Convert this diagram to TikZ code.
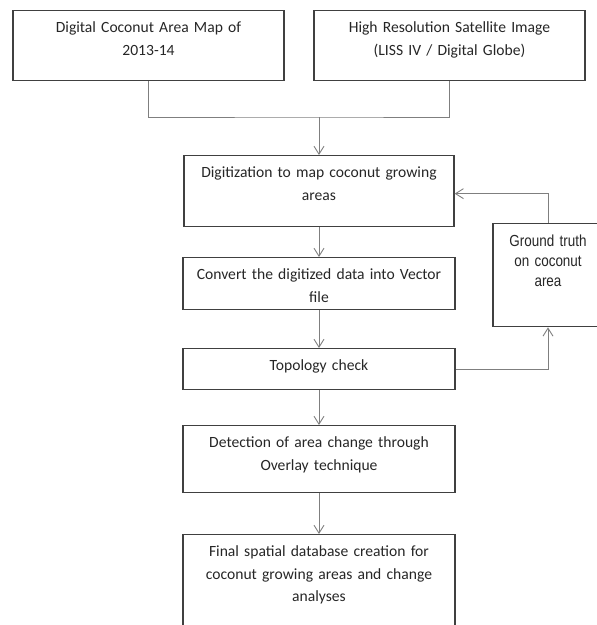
\documentclass[tikz,border=0pt]{standalone}
\usepackage{fontspec}
\setmainfont{Carlito}
\newfontfamily\truthfont{Liberation Sans}[FakeStretch=0.84]
\usetikzlibrary{arrows.meta}
\definecolor{boxline}{HTML}{404040}
\definecolor{linkline}{HTML}{7F7F7F}
\definecolor{textgray}{HTML}{262626}
\begin{document}
\begin{tikzpicture}[x=1pt,y=-1pt,
    box/.style={draw=boxline, line width=1.3pt, anchor=north, align=center,
      inner sep=0pt, text=textgray, text height=22pt,
      font=\fontsize{15.6}{22.5}\selectfont},
    link/.style={draw=linkline, line width=0.9pt},
    linkarrow/.style={link, -{Straight Barb[length=8pt,width=10pt]}}]
      \useasboundingbox (0,0) rectangle (597,625);

      \node[box, text width=271pt, text depth=48pt] (map) at (148.5,10)
        {Digital Coconut Area Map of\\2013-14};
      \node[box, text width=271pt, text depth=48pt] (sat) at (449.5,10)
        {High Resolution Satellite Image\\(LISS IV / Digital Globe)};
      \coordinate (join) at (319,117);

      \node[box, text width=270pt, text depth=49pt] (digit) at (319,155)
        {Digitization to map coconut growing\\areas};
      \node[box, text width=272pt, text depth=30pt] (vector) at (319,257)
        {Convert the digitized data into Vector\\file};
      \node[box, text width=272pt, text depth=19pt] (topo) at (319,348)
        {Topology check};
      \node[box, text width=272pt, text depth=45pt] (overlay) at (319,425)
        {Detection of area change through\\Overlay technique};
      \node[box, text width=272pt, text depth=88pt] (final) at (319,534)
        {Final spatial database creation for\\coconut growing areas and change\\analyses};

      \node[box, text width=110pt, text height=23pt, text depth=80pt,
        font=\truthfont\fontsize{16}{20}\selectfont] (truth) at (548,223)
        {Ground truth\\on coconut\\area};

      \draw[link] (map.south) |- (join) -| (sat.south);
      \draw[linkarrow] (join) -- (digit.north);
      \draw[linkarrow] (digit.south) -- (vector.north);
      \draw[linkarrow] (vector.south) -- (topo.north);
      \draw[linkarrow] (topo.south) -- (overlay.north);
      \draw[linkarrow] (overlay.south) -- (final.north);
      \draw[linkarrow] (topo.east) -| (truth.south);
      \draw[linkarrow] (truth.north) |- ([yshift=-2.5pt]digit.east);
    \end{tikzpicture}
\end{document}
